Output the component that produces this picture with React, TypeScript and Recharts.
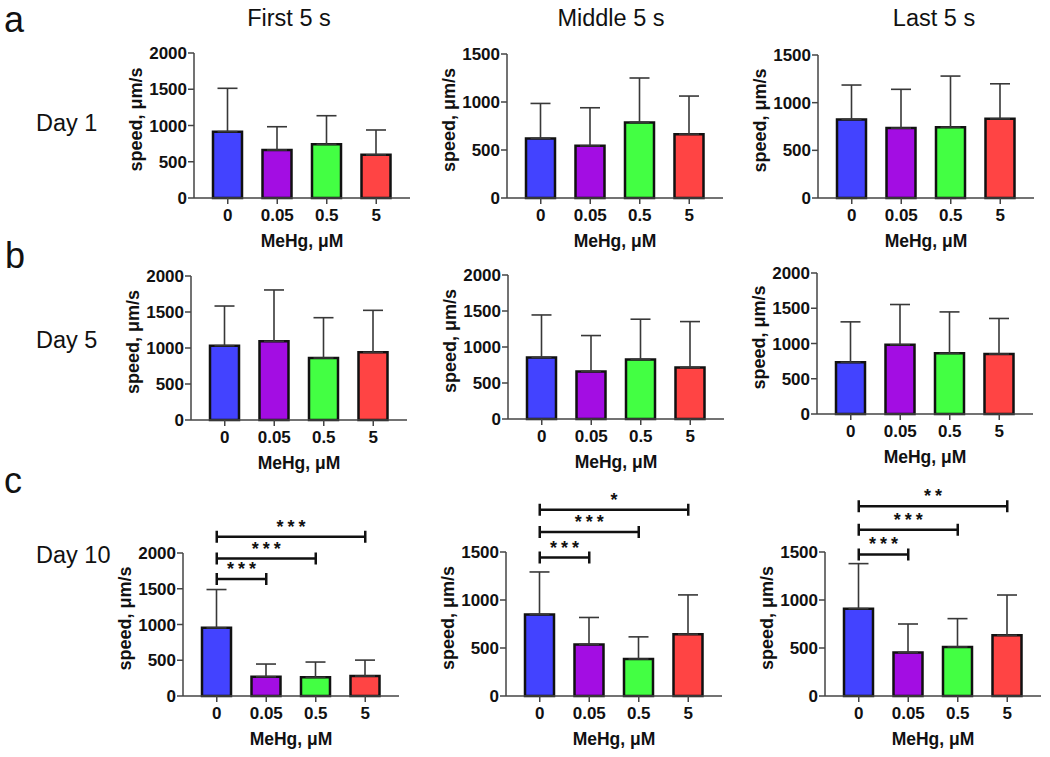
import React from 'react'
import { BarChart, Bar, XAxis, YAxis, ErrorBar, Cell, ReferenceLine } from 'recharts'

const FONT = '"Liberation Sans", Arial, sans-serif'

const doses = ['0', '0.05', '0.5', '5']
const colors = ['#4343ff', '#a30de3', '#43ff43', '#ff4444']

const ticks2000 = [0, 500, 1000, 1500, 2000]
const ticks1500 = [0, 500, 1000, 1500]

// mean speed and SD (upper whisker) for each window
const day1FirstMean = [915, 662, 741, 595]
const day1FirstSd = [598, 321, 394, 343]
const day1MiddleMean = [620, 543, 787, 665]
const day1MiddleSd = [365, 397, 463, 397]
const day1LastMean = [824, 733, 743, 830]
const day1LastSd = [361, 407, 536, 368]

const day5FirstMean = [1032, 1093, 861, 940]
const day5FirstSd = [551, 713, 560, 583]
const day5MiddleMean = [854, 660, 826, 715]
const day5MiddleSd = [591, 499, 560, 638]
const day5LastMean = [734, 982, 861, 851]
const day5LastSd = [573, 571, 587, 504]

const day10FirstMean = [953, 269, 261, 279]
const day10FirstSd = [536, 178, 214, 223]
const day10MiddleMean = [849, 537, 385, 644]
const day10MiddleSd = [443, 281, 231, 409]
const day10LastMean = [910, 452, 511, 632]
const day10LastSd = [469, 298, 295, 420]

// significance brackets: [height, from, to, stars]
type Bracket = [number, string, string, string]
const day10FirstSig: Bracket[] = [
  [1637, '0', '0.05', '***'],
  [1922, '0', '0.5', '***'],
  [2229, '0', '5', '***'],
]
const day10MiddleSig: Bracket[] = [
  [1442, '0', '0.05', '***'],
  [1708, '0', '0.5', '***'],
  [1941, '0', '5', '*'],
]
const day10LastSig: Bracket[] = [
  [1474, '0', '0.05', '***'],
  [1733, '0', '0.5', '***'],
  [1976, '0', '5', '**'],
]

const LEFT_W = 80
const MT = 80
const XH = 60
const PLOT_W = 216
const MR = 12

interface PanelProps {
  axisX: number
  top: number
  bottom: number
  yMax: number
  ticks: number[]
  means: number[]
  sds: number[]
  sig?: Bracket[]
}

const tickStyle = { fill: '#111', fontSize: 17, fontWeight: 700, fontFamily: FONT }

function yLabel(props: any) {
  const vb = props.viewBox || props
  const cx = vb.x + vb.width - 58
  const cy = vb.y + vb.height / 2 - 6
  return (
    <text x={cx} y={cy} transform={`rotate(-90 ${cx} ${cy})`} textAnchor="middle" dominantBaseline="central"
      fill="#111" fontSize={18} fontWeight={700} fontFamily={FONT}>
      speed, μm/s
    </text>
  )
}

function xLabel(props: any) {
  const vb = props.viewBox || props
  return (
    <text x={vb.x + vb.width / 2} y={vb.y + 43} textAnchor="middle" dominantBaseline="central"
      fill="#111" fontSize={17.5} fontWeight={700} fontFamily={FONT}>
      MeHg, μM
    </text>
  )
}

function bracketShape(stars: string) {
  return (p: any) => {
    const { x1, y1, x2 } = p
    const y = y1
    return (
      <g>
        <path d={`M${x1},${y - 6}V${y + 6}M${x1},${y}H${x2}M${x2},${y - 6}V${y + 6}`}
          stroke="#111" strokeWidth={2.5} fill="none" />
        <text x={(x1 + x2) / 2 + 2} y={y - 4} textAnchor="middle" fill="#111" fontSize={18} fontWeight={700}
          fontFamily={FONT} letterSpacing={4}>
          {stars}
        </text>
      </g>
    )
  }
}

function Panel({ axisX, top, bottom, yMax, ticks, means, sds, sig }: PanelProps) {
  const data = doses.map((d, i) => ({ dose: d, mean: means[i], err: [0, sds[i]] }))
  const plotH = bottom - top
  return (
    <div style={{ position: 'absolute', left: axisX - LEFT_W, top: top - MT }}>
      <BarChart width={LEFT_W + PLOT_W + MR} height={MT + plotH + XH} data={data}
        margin={{ top: MT, right: MR, left: 0, bottom: 0 }} barSize={29}>
        <XAxis dataKey="dose" height={XH} padding={{ left: 9, right: 9 }} tick={tickStyle}
          tickSize={6} tickMargin={5} axisLine={{ stroke: '#444', strokeWidth: 1.5 }}
          tickLine={{ stroke: '#444', strokeWidth: 1.5 }} label={xLabel} />
        <YAxis width={LEFT_W} domain={[0, yMax]} ticks={ticks} interval={0} tick={tickStyle}
          tickSize={6} tickMargin={1} axisLine={{ stroke: '#444', strokeWidth: 1.5 }}
          tickLine={{ stroke: '#444', strokeWidth: 1.5 }} label={yLabel} />
        <Bar dataKey="mean" stroke="#111" strokeWidth={2.5} isAnimationActive={false}>
          {data.map((d, i) => (
            <Cell key={d.dose} fill={colors[i]} />
          ))}
          <ErrorBar dataKey="err" width={10} stroke="#383838" strokeWidth={1.6} direction="y" isAnimationActive={false} />
        </Bar>
        {(sig || []).map(([v, from, to, stars]) => (
          <ReferenceLine key={`${v}-${to}`} segment={[{ x: from, y: v }, { x: to, y: v }]} ifOverflow="visible"
            shape={bracketShape(stars)} />
        ))}
      </BarChart>
    </div>
  )
}

const titleStyle = { fontFamily: FONT, fill: '#111' }

export default function App() {
  return (
    <div style={{ position: 'absolute', left: 0, top: 0, width: 1050, height: 757, background: '#fff' }}>
      <svg width={1050} height={757} style={{ position: 'absolute', left: 0, top: 0 }}>
        <g {...titleStyle} fontSize={23.5} textAnchor="middle">
          <text x={289} y={26}>First 5 s</text>
          <text x={611} y={26}>Middle 5 s</text>
          <text x={934} y={26}>Last 5 s</text>
        </g>
        <g {...titleStyle} fontSize={36}>
          <text x={4} y={32}>a</text>
          <text x={5} y={268}>b</text>
          <text x={4} y={493}>c</text>
        </g>
        <g {...titleStyle} fontSize={23.5}>
          <text x={36} y={131}>Day 1</text>
          <text x={36} y={348}>Day 5</text>
          <text x={36} y={563}>Day 10</text>
        </g>
      </svg>

      <Panel axisX={194} top={53} bottom={198} yMax={2000} ticks={ticks2000} means={day1FirstMean} sds={day1FirstSd} />
      <Panel axisX={507} top={54} bottom={198} yMax={1500} ticks={ticks1500} means={day1MiddleMean} sds={day1MiddleSd} />
      <Panel axisX={818} top={55} bottom={198} yMax={1500} ticks={ticks1500} means={day1LastMean} sds={day1LastSd} />

      <Panel axisX={191} top={276} bottom={420} yMax={2000} ticks={ticks2000} means={day5FirstMean} sds={day5FirstSd} />
      <Panel axisX={508} top={275} bottom={419} yMax={2000} ticks={ticks2000} means={day5MiddleMean} sds={day5MiddleSd} />
      <Panel axisX={817} top={273} bottom={414} yMax={2000} ticks={ticks2000} means={day5LastMean} sds={day5LastSd} />

      <Panel axisX={183} top={553} bottom={696} yMax={2000} ticks={ticks2000} means={day10FirstMean} sds={day10FirstSd} sig={day10FirstSig} />
      <Panel axisX={506} top={552} bottom={696} yMax={1500} ticks={ticks1500} means={day10MiddleMean} sds={day10MiddleSd} sig={day10MiddleSig} />
      <Panel axisX={825} top={552} bottom={696} yMax={1500} ticks={ticks1500} means={day10LastMean} sds={day10LastSd} sig={day10LastSig} />
    </div>
  )
}
